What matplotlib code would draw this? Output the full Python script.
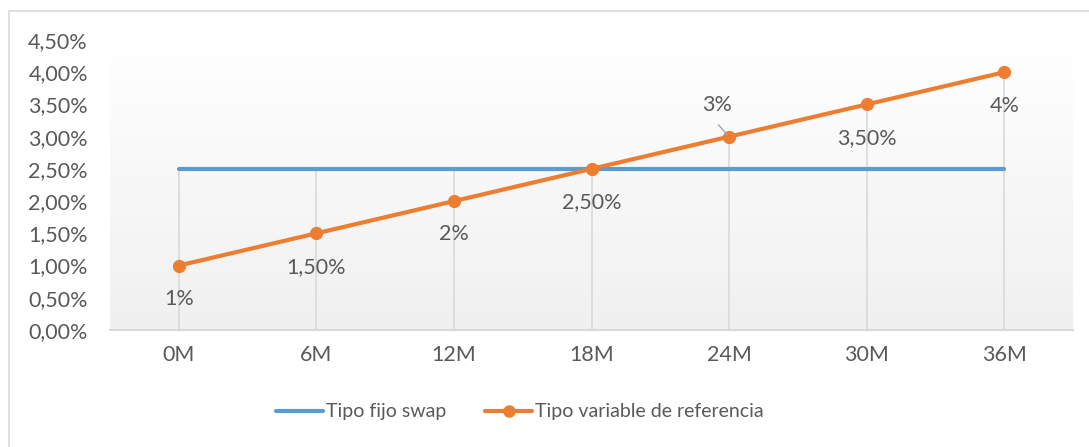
import matplotlib
matplotlib.use("Agg")
import matplotlib.pyplot as plt
import numpy as np
from matplotlib.patches import Rectangle
from matplotlib.lines import Line2D

categories = ["0M", "6M", "12M", "18M", "24M", "30M", "36M"]
fijo = [0.025, 0.025, 0.025, 0.025, 0.025, 0.025, 0.025]
variable = [0.01, 0.015, 0.02, 0.025, 0.03, 0.035, 0.04]
var_labels = ["1%", "1,50%", "2%", "2,50%", "3%", "3,50%", "4%"]
yticks = [0.0, 0.005, 0.01, 0.015, 0.02, 0.025, 0.03, 0.035, 0.04, 0.045]
ytick_labels = ["0,00%", "0,50%", "1,00%", "1,50%", "2,00%", "2,50%", "3,00%", "3,50%", "4,00%", "4,50%"]

plt.rcParams['font.family'] = ['Lato', 'DejaVu Sans']
TXT = "#595959"
BLUE = "#5B9BD5"
ORANGE = "#ED7D31"
GRID = "#d9d9d9"
FS = 15.5

W, H = 1089, 447
fig = plt.figure(figsize=(W/100, H/100), dpi=100)

# chart border
fig.patches.append(Rectangle((8.5/W, -0.1), 1.2, 1 - 10.5/H + 0.1, transform=fig.transFigure,
                             fill=False, edgecolor=GRID, linewidth=1.2))

ax = fig.add_axes([110/W, 1 - 330/H, (1073-110)/W, (330-40)/H])
x = np.arange(len(categories))
ax.set_xlim(-0.5, len(categories) - 0.5)
ax.set_ylim(0, 0.045)

# gradient plot area
grad = np.linspace(0, 1, 256).reshape(-1, 1)
ax.imshow(grad, extent=(-0.5, len(categories) - 0.5, 0, 0.045), aspect='auto',
          cmap=matplotlib.colors.LinearSegmentedColormap.from_list('g', ['#f0f0f0', '#ffffff']),
          origin='lower', zorder=0)

# drop lines
tops = np.maximum(fijo, variable)
ax.vlines(x, 0, tops, color=GRID, linewidth=1.2, zorder=1)

ax.plot(x, fijo, color=BLUE, linewidth=3, solid_capstyle='round', zorder=3, label="Tipo fijo swap")
ax.plot(x, variable, color=ORANGE, linewidth=3, marker='o', markersize=8.5,
        solid_capstyle='round', zorder=4, label="Tipo variable de referencia")

for i, (xv, yv, lab) in enumerate(zip(x, variable, var_labels)):
    if lab == "3%":
        ax.annotate(lab, xy=(xv, yv), xytext=(-9, 23), textcoords='offset points',
                    ha='center', va='center', fontsize=FS, color=TXT, zorder=5)
        ax.annotate("", xy=(xv, yv), xytext=(-9, 10), textcoords='offset points',
                    arrowprops=dict(arrowstyle='-', color='#a6a6a6', linewidth=1), zorder=5)
    else:
        ax.annotate(lab, xy=(xv, yv), xytext=(0, -24), textcoords='offset points',
                    ha='center', va='center', fontsize=FS, color=TXT, zorder=5)

for s in ['top', 'right', 'left']:
    ax.spines[s].set_visible(False)
ax.spines['bottom'].set_color(GRID)
ax.spines['bottom'].set_linewidth(1.5)
ax.set_xticks(x)
ax.set_xticklabels(categories)
ax.set_yticks(yticks)
ax.set_yticklabels(ytick_labels)
ax.tick_params(axis='both', length=0, labelsize=FS, colors=TXT)
ax.tick_params(axis='y', pad=16)
ax.tick_params(axis='x', pad=11)

handles = [Line2D([], [], color=BLUE, linewidth=3, solid_capstyle='round'),
           Line2D([], [], color=ORANGE, linewidth=3, marker='o', markersize=8, solid_capstyle='round')]
fig.legend(handles, ["Tipo fijo swap", "Tipo variable de referencia"], loc='center',
           bbox_to_anchor=(520/W, 1 - 412/H), ncol=2, frameon=False, fontsize=14,
           labelcolor=TXT, handlelength=2.4, handletextpad=0.15, columnspacing=2.0)

fig.savefig("out.png", dpi=100)
